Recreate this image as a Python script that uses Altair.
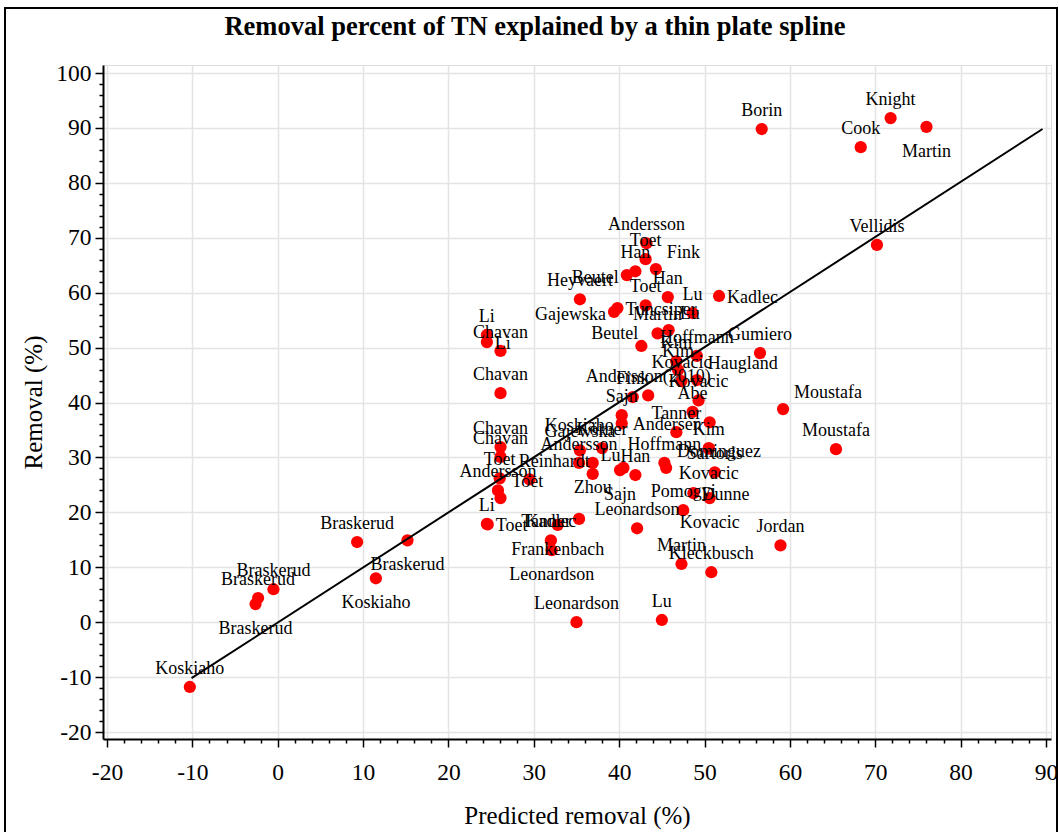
import altair as alt
import pandas as pd

TITLE = "Removal percent of TN explained by a thin plate spline"
FONT = "Liberation Serif"

# One entry per study: name, predicted removal (%), observed removal (%),
# and where its name sits relative to the marker.
study = [
    "Koskiaho", "Braskerud", "Braskerud", "Braskerud", "Braskerud", "Braskerud", "Koskiaho",
    "Li", "Li", "Chavan", "Chavan", "Chavan", "Chavan", "Toet", "Andersson", "Toet", "",
    "Li", "Toet",
    "Frankenbach", "Kadlec", "Leonardson", "Tanner", "Leonardson", "Heyvaert",
    "Andersson", "Toet", "Han", "Beutel", "Fink", "Han", "Toet", "Lu", "Kadlec",
    "Gajewska", "Tuncsiper", "Martin", "Lu", "Beutel", "Gumiero",
    "Kim", "Hoffmann", "Kim", "Kovacic", "Haugland", "Kovacic", "Andersson(2010)", "Fink",
    "Sajn", "Koskiaho", "Abe", "Moustafa", "Andersen", "Tanner", "Kim", "Kovacic", "Moustafa",
    "Gajewska", "Andersson", "Zhou", "Reinhardt", "Körner", "Lu", "Sajn", "Han",
    "Hoffmann", "Dominguez", "Sartoris", "Pomogyi", "Dunne", "Kovacic", "Leonardson",
    "Martin", "Kleckbusch", "Jordan", "Lu",
    "Borin", "Knight", "Martin", "Cook", "Vellidis",
]
predicted = [
    -10.3, -0.5, -2.3, -2.6, 9.3, 15.2, 11.5,
    24.5, 24.5, 26.1, 26.1, 26.1, 26.1, 26.0, 25.8, 26.1, 29.5,
    24.5, 24.6,
    32.8, 32.0, 32.1, 35.3, 35.0, 35.4,
    43.2, 43.1, 41.9, 40.9, 44.3, 45.7, 43.1, 48.6, 51.7,
    39.4, 39.8, 44.5, 45.8, 42.6, 56.5,
    46.7, 49.1, 46.9, 47.3, 49.1, 49.3, 43.4, 41.6,
    40.3, 40.3, 48.6, 59.2, 50.6, 46.7, 50.5, 50.5, 65.4,
    35.4, 35.3, 36.9, 36.9, 38.0, 40.5, 40.1, 41.9,
    45.3, 45.5, 51.2, 47.5, 48.7, 50.6, 42.1,
    47.3, 50.8, 58.9, 45.0,
    56.7, 71.8, 76.0, 68.3, 70.2,
]
removal = [
    -11.8, 6.0, 4.4, 3.3, 14.6, 14.9, 8.0,
    52.3, 51.0, 49.4, 41.7, 31.9, 30.1, 26.2, 24.0, 22.6, 26.0,
    17.9, 17.8,
    17.7, 14.9, 13.1, 18.8, 0.0, 58.8,
    69.0, 66.1, 63.9, 63.2, 64.3, 59.2, 57.7, 56.3, 59.4,
    56.5, 57.2, 52.6, 53.2, 50.3, 49.0,
    47.5, 48.5, 45.9, 43.9, 44.1, 40.4, 41.3, 41.0,
    37.7, 36.2, 38.3, 38.8, 36.4, 34.6, 31.7, 31.6, 31.5,
    31.3, 29.0, 29.0, 27.0, 31.7, 28.1, 27.7, 26.8,
    29.0, 28.1, 27.3, 20.4, 23.5, 22.6, 17.1,
    10.6, 9.1, 14.0, 0.4,
    89.8, 91.8, 90.2, 86.5, 68.7,
]
label_pos = [
    "N", "N", "N", "S", "N", "S", "S",
    "N", "E", "N", "N", "N", "N", "N", "N", "NE", "N",
    "N", "E",
    "S", "N", "S", "W", "N", "N",
    "N", "N", "N", "W", "NE", "N", "N", "N", "E",
    "W", "E", "N", "NE", "NW", "N",
    "N", "N", "N", "N", "NE", "N", "N", "N",
    "N", "W", "N", "NE", "W", "N", "N", "S", "N",
    "N", "N", "S", "NW", "N", "NW", "S", "N",
    "N", "NE", "N", "N", "E", "S", "N",
    "N", "N", "N", "N",
    "N", "N", "S", "N", "N",
]

# Fitted thin plate spline curve (observed vs predicted).
fit_x = [-10.1, 89.6]
fit_y = [-10.2, 89.8]

points = pd.DataFrame({"study": study, "predicted": predicted,
                       "removal": removal, "pos": label_pos})
fit = pd.DataFrame({"predicted": fit_x, "removal": fit_y})

X_DOMAIN = [-20.47, 90.59]
Y_DOMAIN = [-21.27, 101.46]
MAJOR = "datum.value % 10 === 0"


def make_axis(title, values, **kw):
    return alt.Axis(
        title=title,
        values=values,
        tickCount=200,
        labelExpr=f"{MAJOR} ? toString(datum.value) : ''",
        grid=True,
        gridColor="#e4e4e4",
        gridWidth=1.5,
        gridOpacity={"condition": {"test": MAJOR, "value": 1}, "value": 0},
        tickSize={"condition": {"test": MAJOR, "value": 8}, "value": 4},
        tickColor="black",
        tickWidth=1.5,
        domainColor="black",
        domainWidth=2,
        labelFont=FONT,
        labelFontSize=23.5,
        labelColor="black",
        labelOverlap=False,
        labelFlush=False,
        titleFont=FONT,
        titleFontSize=25,
        titleFontWeight="normal",
        titleColor="black",
        **kw,
    )


x_enc = alt.X(
    "predicted:Q",
    scale=alt.Scale(domain=X_DOMAIN, nice=False, zero=False),
    axis=make_axis("Predicted removal (%)", list(range(-20, 91, 2)),
                   labelPadding=13, titlePadding=20),
)
y_enc = alt.Y(
    "removal:Q",
    scale=alt.Scale(domain=Y_DOMAIN, nice=False, zero=False),
    axis=make_axis("Removal (%)", list(range(-20, 101, 2)),
                   labelPadding=4, titlePadding=9),
)

dots = alt.Chart(points).mark_circle(color="#ff0000", opacity=1, size=150).encode(
    x=x_enc, y=y_enc
)

curve = alt.Chart(fit).mark_line(color="black", strokeWidth=2).encode(
    x="predicted:Q", y="removal:Q"
)

placements = {
    "N": dict(align="center", dx=0, dy=-18),
    "S": dict(align="center", dx=0, dy=25),
    "E": dict(align="left", dx=8, dy=2),
    "W": dict(align="right", dx=-8, dy=3),
    "NE": dict(align="left", dx=11, dy=-16),
    "NW": dict(align="right", dx=-3, dy=-12),
}

labels = [
    alt.Chart(points)
    .transform_filter(alt.datum.pos == code)
    .mark_text(font=FONT, fontSize=18, color="black", baseline="middle", **opts)
    .encode(x="predicted:Q", y="removal:Q", text="study:N")
    for code, opts in placements.items()
]

blank = alt.Data(values=[{}])

# Heading, set above the plot frame.
heading = alt.Chart(blank).mark_text(
    text=TITLE, font=FONT, fontSize=26.5, fontWeight="bold", color="black",
    align="center", baseline="middle",
).encode(x=alt.value(432), y=alt.value(-38))

# Border drawn around the whole graphic.
border = alt.Chart(blank).mark_rect(
    fill=None, stroke="black", strokeWidth=2
).encode(
    x=alt.value(-98), x2=alt.value(954), y=alt.value(-57), y2=alt.value(780)
)

chart = alt.layer(dots, curve, *labels, heading, border).properties(
    width=948,
    height=674,
    padding={"left": 103, "top": 65, "right": 8, "bottom": 93},
    autosize=alt.AutoSizeParams(type="none"),
).configure_view(
    stroke="black", strokeWidth=2
).configure(background="white")

chart.save("out.html", embed_options={"renderer": "svg", "actions": False})
